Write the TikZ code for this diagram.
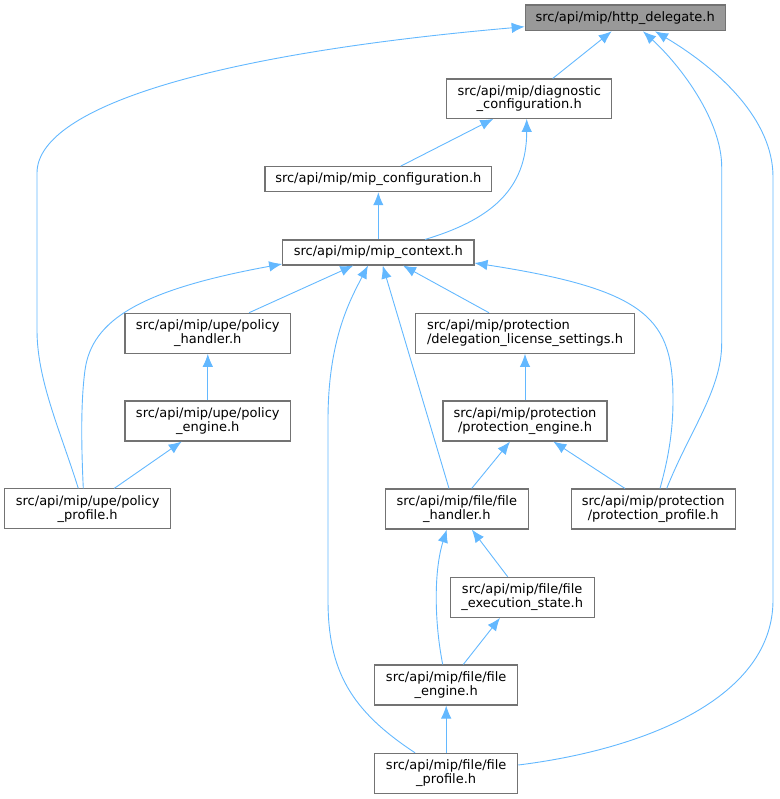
\documentclass[tikz,border=0pt]{standalone}
\usepackage{fontspec}
\setmainfont{DejaVu Sans}
\usetikzlibrary{arrows.meta}
\definecolor{edgeblue}{HTML}{63B8FF}
\definecolor{boxgray}{HTML}{737373}
\definecolor{curgray}{HTML}{999999}

\begin{document}
\begin{tikzpicture}[x=1pt,y=-1pt,
  file/.style={draw=boxgray, line width=1.1pt, fill=white, inner sep=0pt,
    align=center, minimum height=40pt, font=\fontsize{13}{13.6}\selectfont},
  edge/.style={draw=edgeblue, line width=0.9pt, -{Latex[length=13pt,width=10.5pt]}}]
\useasboundingbox (0,0) rectangle (779,799);

% header boxes, top to bottom
\node[file, fill=curgray, minimum width=200pt, minimum height=25.7pt] (hd) at (625.2,17.9) {src/api/mip/http\_delegate.h};
\node[file, minimum width=165pt, minimum height=39.3pt] (diag) at (529.2,98.7) {src/api/mip/diagnostic\\\_configuration.h};
\node[file, minimum width=226.7pt, minimum height=25pt] (mipconf) at (378.3,179.2) {src/api/mip/mip\_configuration.h};
\node[file, minimum width=191.3pt, minimum height=25pt] (mipctx) at (378.3,252.5) {src/api/mip/mip\_context.h};

\node[file, minimum width=165.7pt] (polhandler) at (207.8,333.3) {src/api/mip/upe/policy\\\_handler.h};
\node[file, minimum width=218.6pt, align=left] (deleg) at (525,333.3) {src/api/mip/protection\\/delegation\_license\_settings.h};
\node[file, minimum width=165.7pt] (polengine) at (207.8,421) {src/api/mip/upe/policy\\\_engine.h};
\node[file, minimum width=164pt] (protengine) at (525,421) {src/api/mip/protection\\/protection\_engine.h};

\node[file, minimum width=166pt] (polprofile) at (87.7,508.9) {src/api/mip/upe/policy\\\_profile.h};
\node[file, minimum width=143pt] (filehandler) at (456.8,509) {src/api/mip/file/file\\\_handler.h};
\node[file, minimum width=164.3pt] (protprofile) at (653.2,509) {src/api/mip/protection\\/protection\_profile.h};

\node[file, minimum width=144.3pt] (fileexec) at (522.2,597.3) {src/api/mip/file/file\\\_execution\_state.h};
\node[file, minimum width=143pt] (fileengine) at (446.2,685) {src/api/mip/file/file\\\_engine.h};
\node[file, minimum width=143pt] (fileprofile) at (446.2,773.3) {src/api/mip/file/file\\\_profile.h};

% edges into http_delegate.h
\draw[edge] ([xshift=23.5pt]diag.north) -- ([xshift=-13.5pt]hd.south);
\draw[edge] ([xshift=-9.4pt]polprofile.north) .. controls (60,430) and (37,380) .. (37,330)
  -- (37,173) .. controls (37,110) and (200,55) .. ([yshift=-8.8pt]hd.west);
\draw[edge] ([xshift=13.5pt]protprofile.north) .. controls (690,430) and (721.7,390) .. (721.7,343)
  -- (721.7,167) .. controls (721.7,120) and (680,65) .. ([xshift=17.8pt]hd.south);
\draw[edge] ([yshift=8.3pt]fileprofile.east) .. controls (640,750) and (773,700) .. (773,600)
  -- (773,177) .. controls (773,120) and (720,70) .. ([xshift=29.8pt]hd.south);

% diagnostic / configuration
\draw[edge] ([xshift=22.4pt]mipconf.north) -- ([xshift=-35.9pt]diag.south);
\draw[edge] ([xshift=46.7pt]mipctx.north) .. controls (490,220) and (526.7,190) .. ([xshift=-2.5pt]diag.south);
\draw[edge] (mipctx.north) -- (mipconf.south);

% edges into mip_context.h
\draw[edge] ([xshift=41.2pt]polhandler.north) -- ([xshift=-25pt]mipctx.south);
\draw[edge] ([xshift=-4.4pt]polprofile.north) .. controls (81,440) and (81,400) .. (85,370)
  .. controls (92,320) and (140,290) .. ([yshift=-11.5pt]mipctx.west);
\draw[edge] ([xshift=-7.8pt]filehandler.north) -- ([xshift=4.4pt]mipctx.south);
\draw[edge] ([xshift=-31.2pt]fileprofile.north) .. controls (350,710) and (328,670) .. (328,600)
  -- (328,420) .. controls (328,340) and (350,300) .. ([xshift=-10.3pt]mipctx.south);
\draw[edge] ([xshift=-36pt]deleg.north) -- ([xshift=24.7pt]mipctx.south);
\draw[edge] ([xshift=6.8pt]protprofile.north) .. controls (665,470) and (673,440) .. (673,400)
  .. controls (673,320) and (650,290) .. ([yshift=-10.5pt]mipctx.east);

% policy chain
\draw[edge] (polengine.north) -- (polhandler.south);
\draw[edge] ([xshift=26.6pt]polprofile.north) -- ([xshift=-26.1pt]polengine.south);

% protection chain
\draw[edge] (protengine.north) -- (deleg.south);
\draw[edge] ([xshift=14.9pt]filehandler.north) -- ([xshift=-15pt]protengine.south);
\draw[edge] ([xshift=-28.2pt]protprofile.north) -- ([xshift=28.3pt]protengine.south);

% file chain
\draw[edge] ([xshift=-14.5pt]fileexec.north) -- ([xshift=15pt]filehandler.south);
\draw[edge] ([xshift=-3.5pt]fileengine.north) .. controls (434,620) and (434,570) .. ([xshift=-10pt]filehandler.south);
\draw[edge] ([xshift=17.1pt]fileengine.north) -- ([xshift=-22.2pt]fileexec.south);
\draw[edge] (fileprofile.north) -- (fileengine.south);

\end{tikzpicture}
\end{document}
